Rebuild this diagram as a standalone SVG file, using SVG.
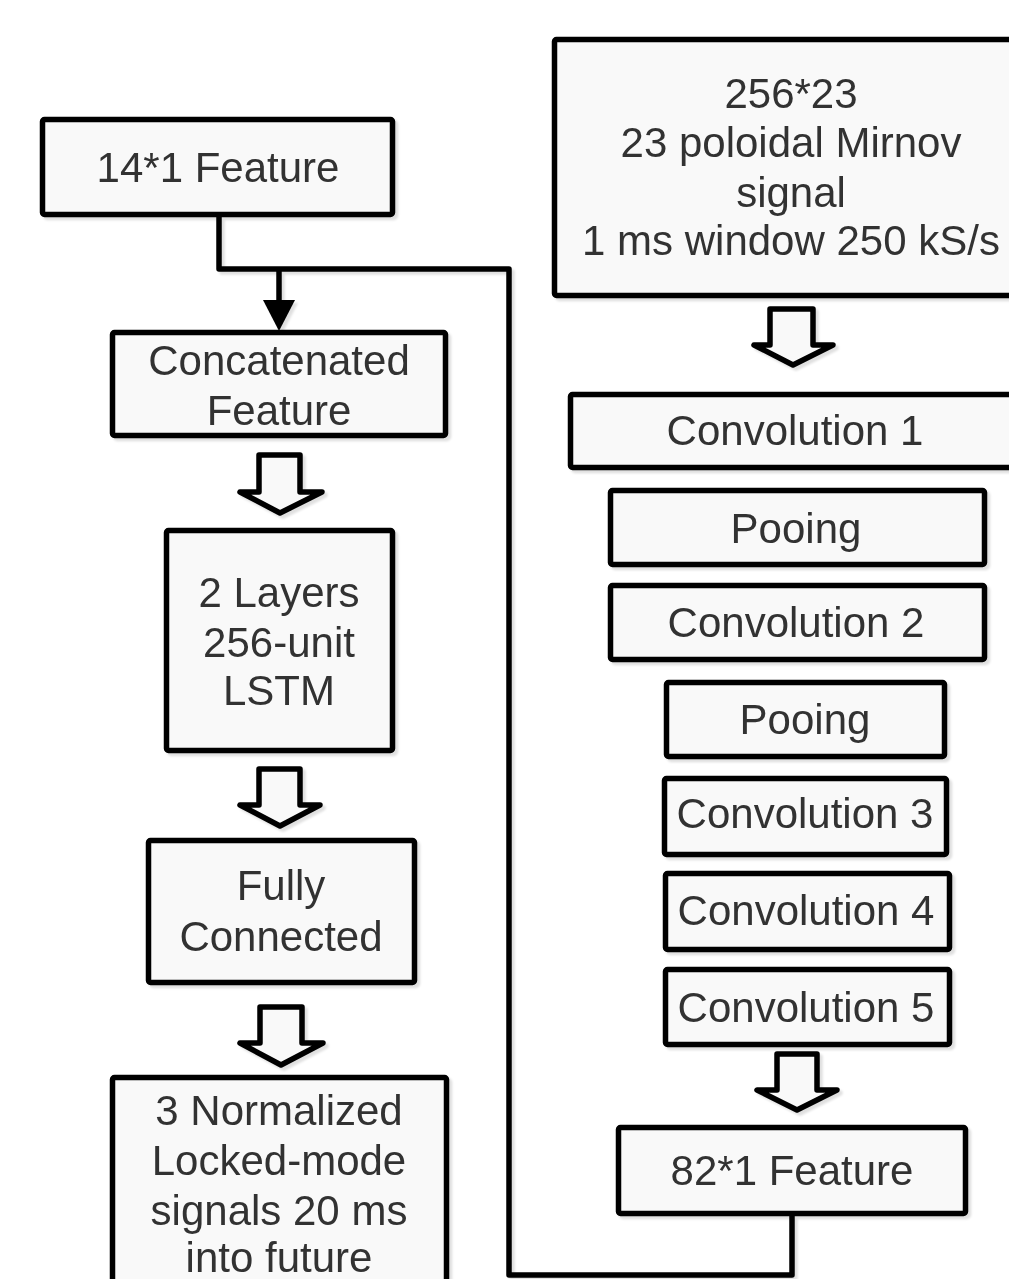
<svg xmlns="http://www.w3.org/2000/svg" width="1009" height="1279" viewBox="0 0 1009 1279">
  <defs>
    <filter id="shadow" x="-5%" y="-5%" width="115%" height="115%">
      <feDropShadow dx="3" dy="3" stdDeviation="1" flood-color="#000" flood-opacity="0.12"/>
    </filter>
    <style>
      .box { fill: #f9f9f9; stroke: #000; stroke-width: 5.5; stroke-linejoin: round; }
      .lbl { font-family: "Liberation Sans", Arial, sans-serif; font-size: 42px; fill: #333; text-anchor: middle; }
      .wire { fill: none; stroke: #000; stroke-width: 5.5; stroke-linejoin: round; }
      .hollow { fill: #f9f9f9; stroke: #000; stroke-width: 5.5; stroke-linejoin: round; }
    </style>
  </defs>
  <rect width="1009" height="1279" fill="#fff"/>

  <!-- connectors -->
  <g id="connectors" filter="url(#shadow)">
    <path class="wire" d="M792,1216 V1275 H509 V269 H219 V217"/>
    <path class="wire" d="M279,269 V302"/>
    <polygon points="263,300 295,300 279,331" fill="#000"/>
    <!-- block arrows -->
    <path class="hollow" d="M259,455 H300 V492 H322 L280,513 L240,492 H259 Z"/>
    <path class="hollow" d="M259,769 H300 V805 H320 L280,826 L240,805 H259 Z"/>
    <path class="hollow" d="M260,1007 H302 V1043 H323 L281,1065 L240,1043 H260 Z"/>
    <path class="hollow" d="M770,309 H813 V345 H833 L793,365 L754,345 H770 Z"/>
    <path class="hollow" d="M777,1054 H817 V1090 H837 L797,1110 L757,1090 H777 Z"/>
  </g>

  <!-- left column -->
  <g id="feature14" filter="url(#shadow)">
    <rect class="box" x="42.5" y="119.5" width="350" height="95" rx="2"/>
    <text class="lbl" x="218" y="182">14*1 Feature</text>
  </g>
  <g id="concat" filter="url(#shadow)">
    <rect class="box" x="112.5" y="332.5" width="333" height="103" rx="2"/>
    <text class="lbl" x="279" y="375">Concatenated</text>
    <text class="lbl" x="279" y="425">Feature</text>
  </g>
  <g id="lstm" filter="url(#shadow)">
    <rect class="box" x="166.5" y="530.5" width="226" height="220" rx="2"/>
    <text class="lbl" x="279" y="607">2 Layers</text>
    <text class="lbl" x="279" y="657">256-unit</text>
    <text class="lbl" x="279" y="705">LSTM</text>
  </g>
  <g id="fc" filter="url(#shadow)">
    <rect class="box" x="148.5" y="840.5" width="266" height="142" rx="2"/>
    <text class="lbl" x="281" y="900">Fully</text>
    <text class="lbl" x="281" y="951">Connected</text>
  </g>
  <g id="output" filter="url(#shadow)">
    <rect class="box" x="112.5" y="1077.5" width="334" height="220" rx="2"/>
    <text class="lbl" x="279" y="1125">3 Normalized</text>
    <text class="lbl" x="279" y="1175">Locked-mode</text>
    <text class="lbl" x="279" y="1225">signals 20 ms</text>
    <text class="lbl" x="279" y="1272">into future</text>
  </g>

  <!-- right column -->
  <g id="mirnov" filter="url(#shadow)">
    <rect class="box" x="554.5" y="39.5" width="473" height="256" rx="2"/>
    <text class="lbl" x="791" y="108">256*23</text>
    <text class="lbl" x="791" y="157">23 poloidal Mirnov</text>
    <text class="lbl" x="791" y="207">signal</text>
    <text class="lbl" x="791" y="255">1 ms window 250 kS/s</text>
  </g>
  <g id="conv1" filter="url(#shadow)">
    <rect class="box" x="570.5" y="394.5" width="452" height="73" rx="2"/>
    <text class="lbl" x="795" y="445">Convolution 1</text>
  </g>
  <g id="pool1" filter="url(#shadow)">
    <rect class="box" x="610.5" y="490.5" width="374" height="74" rx="2"/>
    <text class="lbl" x="796" y="543">Pooing</text>
  </g>
  <g id="conv2" filter="url(#shadow)">
    <rect class="box" x="610.5" y="585.5" width="374" height="74" rx="2"/>
    <text class="lbl" x="796" y="637">Convolution 2</text>
  </g>
  <g id="pool2" filter="url(#shadow)">
    <rect class="box" x="666.5" y="682.5" width="278" height="74" rx="2"/>
    <text class="lbl" x="805" y="734">Pooing</text>
  </g>
  <g id="conv3" filter="url(#shadow)">
    <rect class="box" x="664.5" y="778.5" width="282" height="76" rx="2"/>
    <text class="lbl" x="805" y="828">Convolution 3</text>
  </g>
  <g id="conv4" filter="url(#shadow)">
    <rect class="box" x="665.5" y="873.5" width="284" height="76" rx="2"/>
    <text class="lbl" x="806" y="925">Convolution 4</text>
  </g>
  <g id="conv5" filter="url(#shadow)">
    <rect class="box" x="665.5" y="969.5" width="284" height="75" rx="2"/>
    <text class="lbl" x="806" y="1022">Convolution 5</text>
  </g>
  <g id="feature82" filter="url(#shadow)">
    <rect class="box" x="618.5" y="1127.5" width="347" height="86" rx="2"/>
    <text class="lbl" x="792" y="1185">82*1 Feature</text>
  </g>
</svg>
